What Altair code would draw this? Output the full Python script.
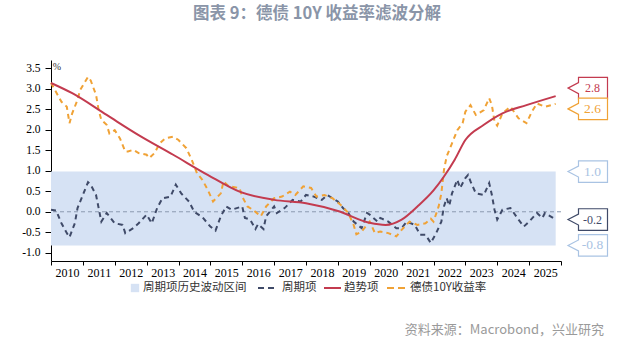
import altair as alt
import pandas as pd

# ---------------- data ----------------
yield_dates = ["2010-01", "2010-05", "2010-07", "2010-08", "2010-09", "2010-11", "2010-12",
               "2011-03", "2011-04", "2011-06", "2011-07", "2011-08", "2011-10", "2011-11",
               "2012-01", "2012-03", "2012-05", "2012-06", "2012-08", "2012-10",
               "2013-01", "2013-02", "2013-04", "2013-06", "2013-08", "2013-11",
               "2014-01", "2014-04", "2014-06", "2014-08", "2014-10", "2014-12",
               "2015-02", "2015-05", "2015-06", "2015-08", "2015-12",
               "2016-01", "2016-03", "2016-05", "2016-08", "2016-10",
               "2017-01", "2017-04", "2017-07", "2017-09", "2017-12",
               "2018-03", "2018-05", "2018-08", "2018-11",
               "2019-02", "2019-05", "2019-07", "2019-08", "2019-10",
               "2020-01", "2020-03", "2020-05", "2020-08", "2020-11",
               "2021-01", "2021-04", "2021-07", "2021-10", "2021-12",
               "2022-01", "2022-03", "2022-04", "2022-05", "2022-06", "2022-08", "2022-10", "2022-12",
               "2023-01", "2023-03", "2023-05", "2023-08", "2023-10", "2023-11", "2023-12",
               "2024-01", "2024-03", "2024-06", "2024-09", "2024-12",
               "2025-02", "2025-04", "2025-07", "2025-11"]
yield_values = [3.14, 2.68, 2.56, 2.16, 2.40, 2.73, 2.97,
                3.29, 3.20, 2.85, 2.48, 2.24, 2.12, 1.91,
                1.99, 1.79, 1.47, 1.47, 1.51, 1.43,
                1.39, 1.31, 1.43, 1.67, 1.79, 1.83,
                1.75, 1.55, 1.27, 0.94, 0.78, 0.54,
                0.25, 0.45, 0.74, 0.62, 0.58,
                0.37, 0.13, 0.05, -0.11, 0.13,
                0.33, 0.37, 0.49, 0.41, 0.62,
                0.58, 0.37, 0.41, 0.33,
                0.17, -0.03, -0.32, -0.55, -0.48,
                -0.24, -0.52, -0.48, -0.52, -0.60,
                -0.44, -0.24, -0.32, -0.28, -0.17,
                -0.24, 0.13, 0.45, 1.02, 1.35, 1.67, 1.99, 2.16,
                2.44, 2.60, 2.36, 2.48, 2.77, 2.60, 2.20,
                2.10, 2.40, 2.56, 2.28, 2.16,
                2.44, 2.64, 2.56, 2.63]

cycle_dates = ["2010-01", "2010-03", "2010-05", "2010-07", "2010-08", "2010-10", "2010-11",
               "2011-01", "2011-03", "2011-04", "2011-06", "2011-07", "2011-08", "2011-10",
               "2012-01", "2012-04", "2012-05", "2012-08", "2012-10",
               "2013-01", "2013-03", "2013-05", "2013-07", "2013-10", "2013-12",
               "2014-02", "2014-05", "2014-07", "2014-10",
               "2015-01", "2015-03", "2015-05", "2015-07", "2015-09",
               "2016-01", "2016-02", "2016-04", "2016-06", "2016-07", "2016-09", "2016-10",
               "2017-01", "2017-02", "2017-05", "2017-08", "2017-11",
               "2018-01", "2018-04", "2018-07", "2018-09",
               "2019-01", "2019-03", "2019-05", "2019-07", "2019-10", "2019-12",
               "2020-01", "2020-04", "2020-05", "2020-08", "2020-11",
               "2021-01", "2021-03", "2021-06", "2021-08", "2021-10", "2021-12",
               "2022-02", "2022-04", "2022-05", "2022-06", "2022-07", "2022-08", "2022-10", "2022-11",
               "2023-01", "2023-02", "2023-03", "2023-05", "2023-08", "2023-10", "2023-11", "2023-12",
               "2024-01", "2024-03", "2024-06", "2024-09", "2024-11",
               "2025-01", "2025-04", "2025-06", "2025-07", "2025-11"]
cycle_values = [0.05, 0.03, -0.28, -0.52, -0.62, -0.28, 0.09,
                0.41, 0.72, 0.66, 0.41, 0.09, -0.24, -0.03,
                -0.28, -0.32, -0.52, -0.40, -0.28,
                -0.07, -0.28, 0.09, 0.33, 0.37, 0.66,
                0.45, 0.25, 0.00, -0.13,
                -0.36, -0.46, -0.11, 0.13, 0.05,
                0.13, -0.15, -0.19, -0.42, -0.30, -0.42, -0.11,
                0.13, -0.03, 0.09, 0.29, 0.25,
                0.41, 0.37, 0.29, 0.41,
                0.25, 0.09, -0.03, -0.24, -0.40, -0.03,
                -0.07, -0.24, -0.15, -0.24, -0.40,
                -0.40, -0.24, -0.32, -0.56, -0.56, -0.76,
                -0.52, -0.24, 0.13, 0.33, 0.15, 0.45, 0.78, 0.58,
                0.82, 0.90, 0.74, 0.45, 0.41, 0.70, 0.41, 0.05,
                -0.19, 0.05, 0.09, -0.19, -0.36,
                -0.24, -0.03, -0.15, -0.03, -0.19]

trend_dates = ["2010-01", "2010-09", "2011-10", "2012-10", "2013-11", "2014-12", "2015-12",
               "2017-01", "2018-01", "2019-01", "2020-01", "2020-07", "2021-01", "2021-07",
               "2022-01", "2022-05", "2022-09", "2023-01", "2023-08", "2024-03", "2024-12", "2025-11"]
trend_values = [3.14, 2.89, 2.36, 1.87, 1.39, 0.90, 0.49,
                0.29, 0.21, 0.02, -0.27, -0.32, -0.19, 0.13,
                0.52, 0.86, 1.27, 1.75, 2.12, 2.40, 2.60, 2.82]

band_top = 0.98
band_bottom = -0.82
axis_years = list(range(2010, 2027))
y_ticks = [-1.0, -0.5, 0.0, 0.5, 1.0, 1.5, 2.0, 2.5, 3.0, 3.5]
legend_names = ["周期项历史波动区间", "周期项", "趋势项", "德债10Y收益率"]
title_text = "图表 9：德债 10Y 收益率滤波分解"
source_text = "资料来源：Macrobond，兴业研究"

# ---------------- styles ----------------
C_BAND = "#d6e2f4"
C_CYCLE = "#3f4a68"
C_TREND = "#c33b4f"
C_YIELD = "#f0a236"
C_BOXBLUE = "#a9c3e3"
SERIF = "Liberation Serif"
CJK = "Noto Sans CJK SC"
MINUS = "\u2212"

W, H = 510, 201


def to_dt(ds):
    return pd.to_datetime([d + "-01" for d in ds])


yield_df = pd.DataFrame({"date": to_dt(yield_dates), "v": yield_values})
cycle_df = pd.DataFrame({"date": to_dt(cycle_dates), "v": cycle_values})
trend_df = pd.DataFrame({"date": to_dt(trend_dates), "v": trend_values})
band_df = pd.DataFrame({"start": [yield_df["date"].min()], "end": [yield_df["date"].max()],
                        "top": [band_top], "bottom": [band_bottom]})
zero_df = pd.DataFrame({"v": [0.0]})
one = pd.DataFrame({"a": [0]})

xscale = alt.Scale(domain=[alt.DateTime(year=2010, month=1, date=1),
                           alt.DateTime(year=2026, month=1, date=1)])
yscale = alt.Scale(domain=[-1.2, 3.7], nice=False, zero=False)

xaxis = alt.Axis(values=[alt.DateTime(year=y, month=1, date=1) for y in axis_years],
                 labelExpr="year(datum.value) >= 2026 ? '' : timeFormat(datum.value, '%Y')",
                 labelOffset=16, tickSize=4, labelPadding=2, labelAngle=0,
                 domainColor="black", tickColor="black", labelColor="black",
                 labelFont=SERIF, labelFontSize=12, grid=False, title=None,
                 labelOverlap=False, labelFlush=False)
yaxis = alt.Axis(values=y_ticks, tickSize=6, labelPadding=5,
                 labelExpr=f"replace(format(datum.value, '.1f'), '{MINUS}', '-')",
                 domainColor="black", tickColor="black", labelColor="black",
                 labelFont=SERIF, labelFontSize=11.5, grid=False, title=None)


def X(field):
    return alt.X(field, type="temporal", scale=xscale, axis=xaxis)


def Y(field):
    return alt.Y(field, type="quantitative", scale=yscale, axis=yaxis)


band = alt.Chart(band_df).mark_rect(color=C_BAND).encode(
    x=X("start"), x2="end", y=Y("top"), y2="bottom")

zero = alt.Chart(zero_df).mark_rule(color="#8c9ab0", strokeDash=[4, 3], strokeWidth=1).encode(
    y=Y("v"))

cycle = alt.Chart(cycle_df).mark_line(color=C_CYCLE, strokeWidth=2, strokeDash=[5, 4]).encode(
    x=X("date"), y=Y("v"))
yld = alt.Chart(yield_df).mark_line(color=C_YIELD, strokeWidth=2, strokeDash=[5, 4]).encode(
    x=X("date"), y=Y("v"))
trend = alt.Chart(trend_df).mark_line(color=C_TREND, strokeWidth=2, interpolate="monotone").encode(
    x=X("date"), y=Y("v"))

layers = [band, zero, cycle, yld, trend]

# callout boxes on the right
BOX = "M0,0 L1.05,-0.55 L1.05,-1.08 L3.95,-1.08 L3.95,1.08 L1.05,1.08 L1.05,0.55 Z"
callouts = [
    (trend_values[-1], C_TREND, -8, 12),
    (yield_values[-1], C_YIELD, 5, 13.5),
    (band_top, C_BOXBLUE, 0, 13.5),
    (cycle_values[-1], C_CYCLE, 0, 12),
    (band_bottom, C_BOXBLUE, 0, 13.5),
]
for val, col, off, fs in callouts:
    d = pd.DataFrame({"v": [val]})
    layers.append(alt.Chart(d).mark_point(shape=BOX, size=400, filled=True, fill="white",
                                          stroke=col, strokeWidth=1.2, opacity=1,
                                          yOffset=off).encode(x=alt.value(517), y=Y("v")))
    layers.append(alt.Chart(d).transform_calculate(
        lab=f"replace(format(datum.v, '.1f'), '{MINUS}', '-')"
    ).mark_text(font=SERIF, fontSize=fs, color=col, align="center",
                baseline="middle", yOffset=off).encode(
        x=alt.value(541.5), y=Y("v"), text="lab:N"))

# unit label
layers.append(alt.Chart(one).mark_text(font=SERIF, fontSize=10, color="#333333", align="center",
                                       baseline="middle").encode(
    x=alt.value(6), y=alt.value(7), text=alt.value("%")))

# title and source
layers.append(alt.Chart(one).mark_text(font=CJK, fontSize=16.5, fontWeight="bold", color="#8a95a8",
                                       align="center", baseline="middle").encode(
    x=alt.value(266), y=alt.value(-46.5), text=alt.value(title_text)))
layers.append(alt.Chart(one).mark_text(font=CJK, fontSize=13, color="#9a9a9a",
                                       align="right", baseline="middle").encode(
    x=alt.value(553), y=alt.value(270), text=alt.value(source_text)))

# legend
LY = 228
layers.append(alt.Chart(one).mark_square(color=C_BAND, size=70, opacity=1).encode(
    x=alt.value(84), y=alt.value(LY)))
layers.append(alt.Chart(one).mark_rule(color=C_CYCLE, strokeWidth=2, strokeDash=[6, 4]).encode(
    x=alt.value(207), x2=alt.value(223), y=alt.value(LY)))
layers.append(alt.Chart(one).mark_rule(color=C_TREND, strokeWidth=2).encode(
    x=alt.value(273), x2=alt.value(290), y=alt.value(LY)))
layers.append(alt.Chart(one).mark_rule(color=C_YIELD, strokeWidth=2, strokeDash=[7, 4]).encode(
    x=alt.value(336), x2=alt.value(354), y=alt.value(LY)))
for name, lx in zip(legend_names, [92, 231, 293, 359]):
    layers.append(alt.Chart(one).mark_text(font=CJK, fontSize=11.5, color="#333333",
                                           align="left", baseline="middle").encode(
        x=alt.value(lx), y=alt.value(LY), text=alt.value(name)))

chart = alt.layer(*layers).properties(
    width=W, height=H,
    padding={"left": 51, "top": 60, "right": 73, "bottom": 81},
    autosize=alt.AutoSizeParams(type="none"),
    background="white",
).configure_view(stroke=None)

chart.save("out.html", embed_options={"renderer": "svg", "actions": False})
